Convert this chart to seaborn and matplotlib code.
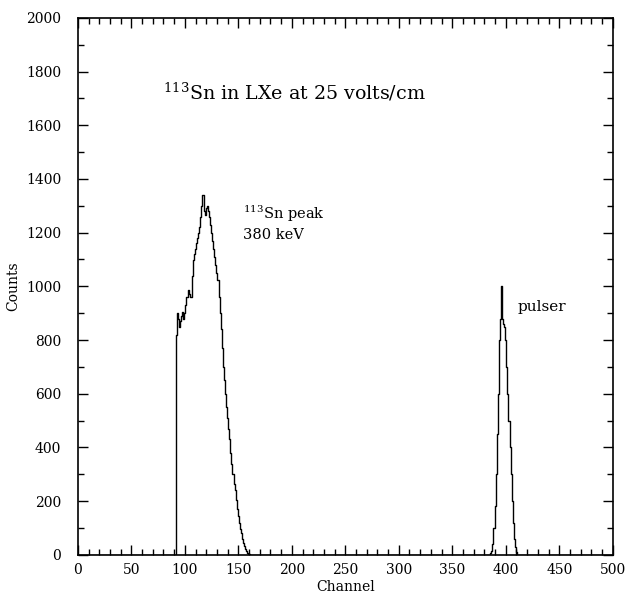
import numpy as np
import pandas as pd
import matplotlib
matplotlib.use("Agg")
import matplotlib.pyplot as plt
from matplotlib.ticker import MultipleLocator
import seaborn as sns

# ---- data ----
sn_start = 92
sn_counts = [820, 900, 880, 850, 870, 890, 906, 880, 900, 930,
             960, 987, 970, 960, 962, 1040, 1099, 1120, 1140, 1162,
             1180, 1199, 1220, 1260, 1300, 1340, 1280, 1266, 1290, 1300,
             1279, 1260, 1230, 1199, 1170, 1140, 1111, 1080, 1050, 1024,
             960, 900, 840, 770, 700, 650, 600, 550, 510, 470,
             430, 380, 340, 300, 265, 240, 205, 170, 143, 120,
             95, 80, 60, 45, 32, 22, 14, 8, 4, 1, 0]
pulser_start = 386
pulser_counts = [5, 15, 40, 100, 180, 300, 450, 600, 800, 880,
                 1000, 880, 860, 850, 800, 700, 600, 500, 400, 300,
                 200, 120, 60, 30, 10, 0]
n_channels = 501
x_ticks = [0, 50, 100, 150, 200, 250, 300, 350, 400, 450, 500]
y_ticks = [0, 200, 400, 600, 800, 1000, 1200, 1400, 1600, 1800, 2000]

# build spectrum
channels = np.arange(n_channels)
counts = np.zeros(n_channels)
counts[sn_start:sn_start + len(sn_counts)] = sn_counts
counts[pulser_start:pulser_start + len(pulser_counts)] = pulser_counts
df = pd.DataFrame({"Channel": channels, "Counts": counts})

sns.set_theme(style="white")
plt.rcParams["font.family"] = ["DejaVu Serif"]
plt.rcParams["mathtext.default"] = "regular"

fig = plt.figure(figsize=(6.33, 5.94), dpi=100)
ax = fig.add_axes([0.123, 0.066, 0.845, 0.904])

sns.lineplot(data=df, x="Channel", y="Counts", ax=ax, color="black",
             linewidth=1.0, drawstyle="steps-mid")

ax.set_xlim(0, 500)
ax.set_ylim(0, 2000)
ax.set_xticks(x_ticks)
ax.set_yticks(y_ticks)
ax.xaxis.set_minor_locator(MultipleLocator(10))
ax.yaxis.set_minor_locator(MultipleLocator(100))
ax.tick_params(which="both", direction="in", top=True, right=True,
               bottom=True, left=True, color="black", width=1.0,
               labelsize=10, labelcolor="black")
ax.tick_params(axis="y", which="major", pad=12)
ax.tick_params(axis="x", which="major", pad=6)
ax.tick_params(which="major", length=7)
ax.tick_params(which="minor", length=4)
for s in ax.spines.values():
    s.set_color("black")
    s.set_linewidth(1.2)

ax.set_xlabel("Channel", fontsize=10, color="black", labelpad=2)
ax.set_ylabel("Counts", fontsize=10, color="black", labelpad=4)

ax.text(80, 1724, r"$^{113}$Sn in LXe at 25 volts/cm", fontsize=13.7,
        va="center", ha="left", color="black")
ax.text(154, 1270, r"$^{113}$Sn peak", fontsize=10.5, va="center",
        ha="left", color="black")
ax.text(154, 1190, "380 keV", fontsize=10.5, va="center", ha="left",
        color="black")
ax.text(411, 924, "pulser", fontsize=11, va="center", ha="left",
        color="black")

fig.savefig("out.png", dpi=100)
